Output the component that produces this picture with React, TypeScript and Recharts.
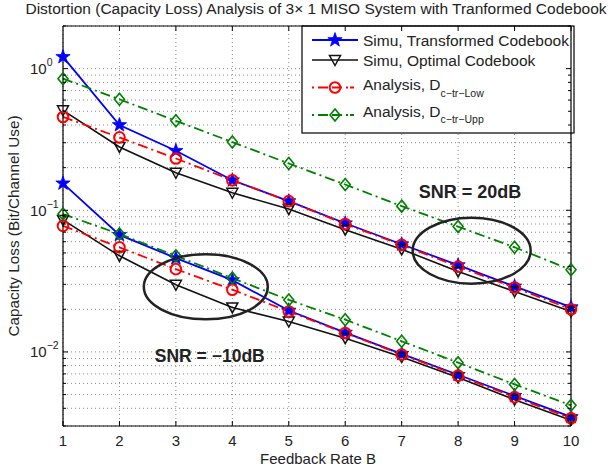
import React from "react";
import { LineChart, Line, XAxis, YAxis, CartesianGrid, ReferenceDot, Customized } from "recharts";

const FONT = '"Liberation Sans", Arial, Helvetica, sans-serif';
const TEXT = "#222";

const feedbackRate = [1, 2, 3, 4, 5, 6, 7, 8, 9, 10];

// SNR = 20dB
const simuTransHigh = [1.21, 0.4, 0.263, 0.163, 0.116, 0.081, 0.0576, 0.041, 0.029, 0.0207];
const simuOptHigh = [0.508, 0.28, 0.184, 0.133, 0.102, 0.073, 0.053, 0.037, 0.0267, 0.0193];
const anaLowHigh = [0.456, 0.327, 0.232, 0.163, 0.116, 0.08, 0.057, 0.04, 0.0285, 0.02];
const anaUppHigh = [0.85, 0.608, 0.428, 0.303, 0.214, 0.152, 0.107, 0.0767, 0.0548, 0.038];

// SNR = -10dB
const simuTransLow = [0.155, 0.067, 0.046, 0.0321, 0.0196, 0.0137, 0.0097, 0.0069, 0.0049, 0.00348];
const simuOptLow = [0.0855, 0.0477, 0.0298, 0.0206, 0.0164, 0.0125, 0.0092, 0.0066, 0.0046, 0.0033];
const anaLowLow = [0.0776, 0.0548, 0.0384, 0.0275, 0.0193, 0.0136, 0.0096, 0.0068, 0.0048, 0.0034];
const anaUppLow = [0.094, 0.068, 0.0477, 0.0332, 0.0233, 0.0169, 0.0119, 0.0084, 0.0059, 0.0042];

const yTicks = [
  0.003, 0.004, 0.005, 0.006, 0.007, 0.008, 0.009,
  0.01, 0.02, 0.03, 0.04, 0.05, 0.06, 0.07, 0.08, 0.09,
  0.1, 0.2, 0.3, 0.4, 0.5, 0.6, 0.7, 0.8, 0.9,
  1, 2,
];

const legendItems = [
  { name: "Simu, Transformed Codebook", sub: "", marker: "star" },
  { name: "Simu, Optimal Codebook", sub: "", marker: "tri" },
  { name: "Analysis, D", sub: "c\u2212tr\u2212Low", marker: "circle" },
  { name: "Analysis, D", sub: "c\u2212tr\u2212Upp", marker: "diamond" },
];

const data = feedbackRate.map((b, i) => ({
  b,
  transHigh: simuTransHigh[i],
  optHigh: simuOptHigh[i],
  lowHigh: anaLowHigh[i],
  uppHigh: anaUppHigh[i],
  transLow: simuTransLow[i],
  optLow: simuOptLow[i],
  lowLow: anaLowLow[i],
  uppLow: anaUppLow[i],
}));

const BLUE = "#0000ff";
const BLACK = "#111";
const RED = "#ff0000";
const GREEN = "#008000";
const DASHDOT = "10 4 2 4";

function starPoints(cx: number, cy: number, R = 7.5, r = 3) {
  const pts: string[] = [];
  for (let k = 0; k < 10; k++) {
    const a = -Math.PI / 2 + (k * Math.PI) / 5;
    const rad = k % 2 === 0 ? R : r;
    pts.push(`${cx + rad * Math.cos(a)},${cy + rad * Math.sin(a)}`);
  }
  return pts.join(" ");
}

function Marker({ type, cx, cy }: { type: string; cx: number; cy: number }) {
  if (type === "star") {
    return <polygon points={starPoints(cx, cy)} fill={BLUE} stroke={BLUE} strokeWidth={0.8} />;
  }
  if (type === "tri") {
    return (
      <polygon
        points={`${cx - 5.5},${cy - 4.5} ${cx + 5.5},${cy - 4.5} ${cx},${cy + 5.5}`}
        fill="none"
        stroke={BLACK}
        strokeWidth={1.5}
      />
    );
  }
  if (type === "circle") {
    return <circle cx={cx} cy={cy} r={5.3} fill="none" stroke={RED} strokeWidth={2} />;
  }
  return (
    <polygon
      points={`${cx},${cy - 6} ${cx + 5},${cy} ${cx},${cy + 6} ${cx - 5},${cy}`}
      fill="none"
      stroke={GREEN}
      strokeWidth={1.6}
    />
  );
}

const dotOf = (type: string) => (p: any) => {
  const key = `${p.dataKey}-${p.index}`;
  if (p.cx == null || p.cy == null) return <g key={key} />;
  return (
    <g key={key}>
      <Marker type={type} cx={p.cx} cy={p.cy} />
    </g>
  );
};

function YTick(props: any) {
  const { x, y, payload, side } = props;
  const v = payload.value as number;
  const exp = Math.round(Math.log10(v));
  const major = Math.abs(v / Math.pow(10, exp) - 1) < 1e-6;
  const len = major ? 5 : 3;
  const dir = side === "left" ? 1 : -1;
  return (
    <g>
      <line x1={x} y1={y} x2={x + dir * len} y2={y} stroke="#000" strokeWidth={1} />
      {side === "left" && major ? (
        <text x={x - 33} y={y + 5.5} fontSize={15} fill={TEXT} fontFamily={FONT}>
          10
          <tspan dy={-8} fontSize={10.5}>
            {exp === 0 ? "0" : `\u2212${-exp}`}
          </tspan>
        </text>
      ) : null}
    </g>
  );
}

function XTick(props: any) {
  const { x, y, payload, side } = props;
  const dir = side === "bottom" ? -1 : 1;
  return (
    <g>
      <line x1={x} y1={y} x2={x} y2={y + dir * 5} stroke="#000" strokeWidth={1} />
      {side === "bottom" ? (
        <text x={x} y={y + 19.5} textAnchor="middle" fontSize={15} fill={TEXT} fontFamily={FONT}>
          {payload.value}
        </text>
      ) : null}
    </g>
  );
}

function Decorations() {
  const rowLine = [40, 60, 87.5, 115];
  const rowBase = [45.5, 65.5, 90, 116.7];
  const styles = [
    { color: BLUE, dash: undefined as string | undefined, w: 1.8 },
    { color: BLACK, dash: undefined, w: 1.6 },
    { color: RED, dash: DASHDOT, w: 1.8 },
    { color: GREEN, dash: DASHDOT, w: 1.8 },
  ];
  return (
    <g fontFamily={FONT}>
      <text x={316} y={14} textAnchor="middle" fontSize={15.5} fill={TEXT}>
        Distortion (Capacity Loss) Analysis of 3{"\u00d7"} 1 MISO System with Tranformed Codebook
      </text>
      <text
        x={19}
        y={226}
        transform="rotate(-90, 19, 226)"
        textAnchor="middle"
        fontSize={15.3}
        fill={TEXT}
      >
        Capacity Loss (Bit/Channel Use)
      </text>
      <text x={318} y={463.5} textAnchor="middle" fontSize={15} fill={TEXT}>
        Feedback Rate B
      </text>
      <rect x={302} y={26} width={272} height={107} fill="#fff" stroke="#000" strokeWidth={1.2} />
      {legendItems.map((it, i) => (
        <g key={it.name + i}>
          <line
            x1={312}
            y1={rowLine[i]}
            x2={358}
            y2={rowLine[i]}
            stroke={styles[i].color}
            strokeWidth={styles[i].w}
            strokeDasharray={styles[i].dash ? "2 4 10 4 10 4 2" : undefined}
          />
          <Marker type={it.marker} cx={335} cy={rowLine[i]} />
          <text x={363} y={rowBase[i]} fontSize={15.5} fill={TEXT}>
            {it.name}
            {it.sub ? (
              <tspan dy={6.7} fontSize={10.5}>
                {it.sub}
              </tspan>
            ) : null}
          </text>
        </g>
      ))}
    </g>
  );
}

export default function App() {
  return (
    <div style={{ position: "absolute", left: 0, top: 0, background: "#fff" }}>
      <LineChart width={612} height={472} data={data} margin={{ top: 0, right: 0, bottom: 0, left: 0 }}>
        <CartesianGrid stroke="#8a8a8a" strokeDasharray="1 3" strokeWidth={1} />
        <XAxis
          dataKey="b"
          type="number"
          domain={[1, 10]}
          ticks={feedbackRate}
          interval={0}
          height={46}
          tickSize={0}
          tickMargin={0}
          axisLine={{ stroke: "#000", strokeWidth: 1.2 }}
          tick={(p: any) => <XTick {...p} side="bottom" />}
        />
        <XAxis
          xAxisId="top"
          orientation="top"
          type="number"
          domain={[1, 10]}
          ticks={feedbackRate}
          interval={0}
          height={26}
          tickSize={0}
          tickMargin={0}
          axisLine={{ stroke: "#000", strokeWidth: 1.2 }}
          tick={(p: any) => <XTick {...p} side="top" />}
        />
        <YAxis
          scale="log"
          type="number"
          domain={[0.003, 2]}
          allowDataOverflow
          ticks={yTicks}
          interval={0}
          width={63}
          tickSize={0}
          tickMargin={0}
          axisLine={{ stroke: "#000", strokeWidth: 1.2 }}
          tick={(p: any) => <YTick {...p} side="left" />}
        />
        <YAxis
          yAxisId="right"
          orientation="right"
          scale="log"
          type="number"
          domain={[0.003, 2]}
          allowDataOverflow
          ticks={yTicks}
          interval={0}
          width={41}
          tickSize={0}
          tickMargin={0}
          axisLine={{ stroke: "#000", strokeWidth: 1.2 }}
          tick={(p: any) => <YTick {...p} side="right" />}
        />

        <Line dataKey="transHigh" stroke={BLUE} strokeWidth={1.8} dot={dotOf("star")} isAnimationActive={false} />
        <Line dataKey="transLow" stroke={BLUE} strokeWidth={1.8} dot={dotOf("star")} isAnimationActive={false} />
        <Line dataKey="optHigh" stroke={BLACK} strokeWidth={1.6} dot={dotOf("tri")} isAnimationActive={false} />
        <Line dataKey="optLow" stroke={BLACK} strokeWidth={1.6} dot={dotOf("tri")} isAnimationActive={false} />
        <Line
          dataKey="lowHigh"
          stroke={RED}
          strokeWidth={1.8}
          strokeDasharray={DASHDOT}
          dot={dotOf("circle")}
          isAnimationActive={false}
        />
        <Line
          dataKey="lowLow"
          stroke={RED}
          strokeWidth={1.8}
          strokeDasharray={DASHDOT}
          dot={dotOf("circle")}
          isAnimationActive={false}
        />
        <Line
          dataKey="uppHigh"
          stroke={GREEN}
          strokeWidth={1.8}
          strokeDasharray={DASHDOT}
          dot={dotOf("diamond")}
          isAnimationActive={false}
        />
        <Line
          dataKey="uppLow"
          stroke={GREEN}
          strokeWidth={1.8}
          strokeDasharray={DASHDOT}
          dot={dotOf("diamond")}
          isAnimationActive={false}
        />

        <ReferenceDot
          x={3.53}
          y={0.0288}
          ifOverflow="visible"
          shape={(p: any) => (
            <ellipse cx={p.cx} cy={p.cy} rx={62} ry={32.5} fill="none" stroke="#222" strokeWidth={2.5} />
          )}
        />
        <ReferenceDot
          x={8.24}
          y={0.0519}
          ifOverflow="visible"
          shape={(p: any) => (
            <ellipse cx={p.cx} cy={p.cy} rx={59} ry={33} fill="none" stroke="#222" strokeWidth={2.5} />
          )}
        />
        <ReferenceDot
          x={8.21}
          y={0.1367}
          ifOverflow="visible"
          shape={(p: any) => (
            <text
              x={p.cx}
              y={p.cy + 6.5}
              textAnchor="middle"
              fontSize={18}
              fontWeight="bold"
              fill={TEXT}
              fontFamily={FONT}
            >
              SNR = 20dB
            </text>
          )}
        />
        <ReferenceDot
          x={3.6}
          y={0.0095}
          ifOverflow="visible"
          shape={(p: any) => (
            <text
              x={p.cx}
              y={p.cy + 6.5}
              textAnchor="middle"
              fontSize={17.5}
              fontWeight="bold"
              fill={TEXT}
              fontFamily={FONT}
            >
              SNR = {"\u2212"}10dB
            </text>
          )}
        />
        <Customized component={Decorations} />
      </LineChart>
    </div>
  );
}
